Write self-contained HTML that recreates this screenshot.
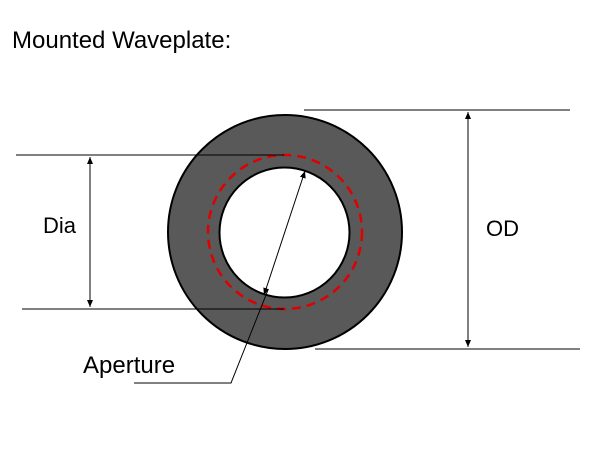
<!DOCTYPE html>
<html><head><meta charset="utf-8"><style>
html,body{margin:0;padding:0;background:#fff;}
svg{display:block;}
text{font-family:"Liberation Sans",Arial,sans-serif;fill:#000;}
</style></head><body>
<svg width="600" height="460" viewBox="0 0 600 460" xmlns="http://www.w3.org/2000/svg">
<defs>
<marker id="a" markerWidth="8" markerHeight="8" refX="7" refY="4" orient="auto" markerUnits="userSpaceOnUse">
<path d="M0,1 L7,4 L0,7 z" fill="#000"/></marker>
<marker id="b" markerWidth="8" markerHeight="8" refX="1" refY="4" orient="auto" markerUnits="userSpaceOnUse">
<path d="M8,1 L1,4 L8,7 z" fill="#000"/></marker>
</defs>
<text x="12" y="48" font-size="24">Mounted Waveplate:</text>
<circle cx="285" cy="232" r="117" fill="#595959" stroke="#000" stroke-width="2"/>
<circle cx="284.5" cy="232.5" r="65" fill="#fff" stroke="#000" stroke-width="2"/>
<circle cx="285" cy="232" r="77" fill="none" stroke="#e00000" stroke-width="2.5" stroke-dasharray="9,6"/>
<g stroke="#000" stroke-width="1" fill="none">
<line x1="16" y1="155" x2="284" y2="155"/>
<line x1="22" y1="309" x2="284" y2="309"/>
<line x1="90" y1="157" x2="90" y2="307" marker-start="url(#b)" marker-end="url(#a)"/>
<line x1="304" y1="110" x2="570" y2="110"/>
<line x1="315" y1="349" x2="580" y2="349"/>
<line x1="468" y1="112" x2="468" y2="347" marker-start="url(#b)" marker-end="url(#a)"/>
<line x1="264" y1="295" x2="305" y2="171" marker-start="url(#b)" marker-end="url(#a)"/>
<polyline points="134,383 231,383 268,290"/>
</g>
<text x="43" y="233" font-size="22">Dia</text>
<text x="486" y="236" font-size="22">OD</text>
<text x="83" y="373" font-size="24">Aperture</text>
</svg>
</body></html>
